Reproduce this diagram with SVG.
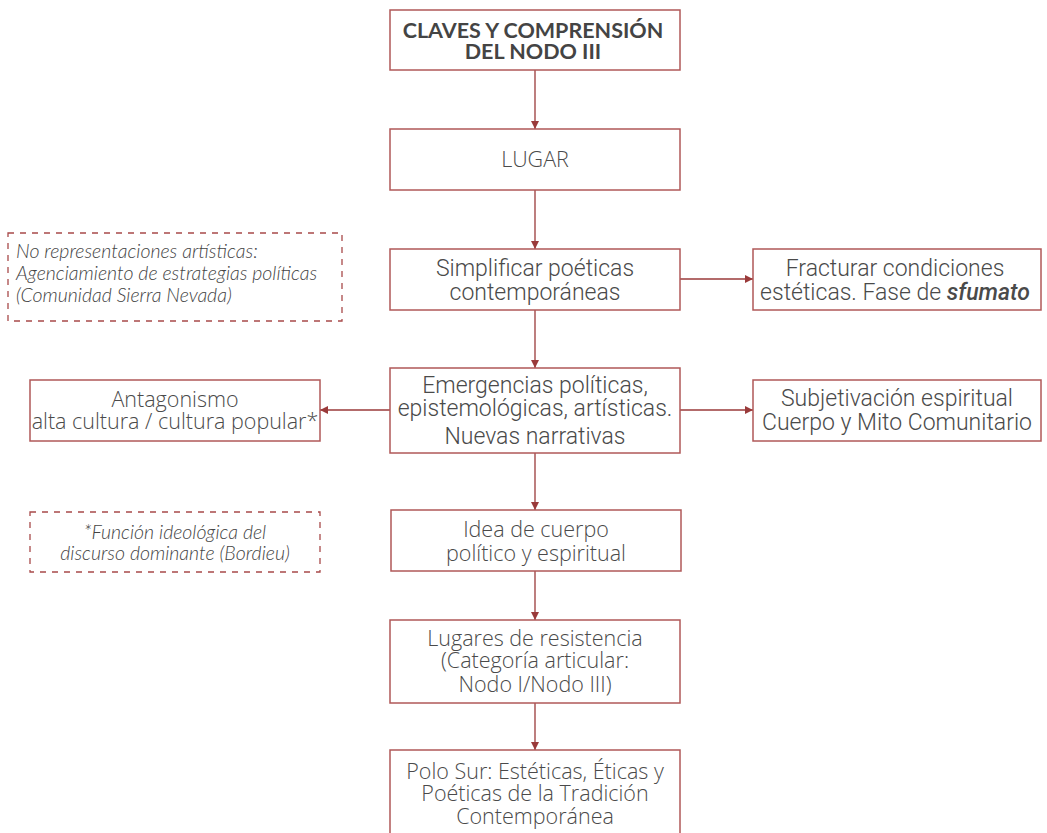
<svg xmlns="http://www.w3.org/2000/svg" width="1047" height="833" viewBox="0 0 1047 833">
  <style>
    .box { fill: #ffffff; stroke: #b05858; stroke-width: 1.5; }
    .note { fill: none; stroke: #a84a4a; stroke-width: 1.3; stroke-dasharray: 6 6; }
    .t { font-family: "Open Sans", "Liberation Sans", sans-serif; font-weight: 300; font-size: 21.5px; fill: #4a4a4a; text-anchor: middle; }
    .c { font-family: Roboto, "Liberation Sans", sans-serif; font-weight: 300; font-size: 23px; fill: #4a4a4a; text-anchor: middle; }
    .title { font-family: Lato, "Liberation Sans", sans-serif; font-weight: 700; font-size: 21.5px; fill: #444444; text-anchor: middle; }
    .n { font-family: Lato, "Liberation Sans", sans-serif; font-style: italic; font-weight: 300; font-size: 19.5px; fill: #444444; }
    .conn { stroke: #9a3a3a; stroke-width: 1.3; fill: none; marker-end: url(#arrow); }
  </style>
  <defs>
    <marker id="arrow" viewBox="0 0 10 10" refX="10" refY="5" markerWidth="8" markerHeight="8" markerUnits="userSpaceOnUse" orient="auto">
      <path d="M0,0 L10,5 L0,10 z" fill="#9a3a3a"/>
    </marker>
  </defs>

  <g id="connectors">
    <line class="conn" x1="535" y1="70" x2="535" y2="129"/>
    <line class="conn" x1="535" y1="190" x2="535" y2="249"/>
    <line class="conn" x1="535" y1="310" x2="535" y2="368"/>
    <line class="conn" x1="680" y1="279" x2="753" y2="279"/>
    <line class="conn" x1="390" y1="410" x2="320" y2="410"/>
    <line class="conn" x1="680" y1="410" x2="753" y2="410"/>
    <line class="conn" x1="535" y1="453" x2="535" y2="510"/>
    <line class="conn" x1="535" y1="571" x2="535" y2="620"/>
    <line class="conn" x1="535" y1="703" x2="535" y2="750"/>
  </g>

  <g id="n-claves">
    <rect class="box" x="390" y="10" width="290" height="60"/>
    <text class="title" x="533" y="38">CLAVES Y COMPRENSIÓN</text>
    <text class="title" x="533" y="59">DEL NODO III</text>
  </g>

  <g id="n-lugar">
    <rect class="box" x="390" y="129" width="290" height="61"/>
    <text class="t" x="535" y="167">LUGAR</text>
  </g>

  <g id="n-simplificar">
    <rect class="box" x="390" y="249" width="290" height="61"/>
    <text class="c" x="535" y="276">Simplificar poéticas</text>
    <text class="c" x="535" y="300">contemporáneas</text>
  </g>

  <g id="n-fracturar">
    <rect class="box" x="753" y="249" width="288" height="61"/>
    <text class="c" x="895" y="276" font-size="21">Fracturar condiciones</text>
    <text class="c" x="895" y="300" font-size="21">estéticas. Fase de <tspan font-style="italic" font-weight="500">sfumato</tspan></text>
  </g>

  <g id="n-nota-sierra">
    <rect class="note" x="8" y="233" width="334" height="88"/>
    <text class="n" x="16" y="258" font-weight="400" fill="#333333">No representaciones artísticas:</text>
    <text class="n" x="16" y="280">Agenciamiento de estrategias políticas</text>
    <text class="n" x="16" y="302">(Comunidad Sierra Nevada)</text>
  </g>

  <g id="n-emergencias">
    <rect class="box" x="390" y="368" width="290" height="85"/>
    <text class="c" x="535" y="393">Emergencias políticas,</text>
    <text class="c" x="535" y="416">epistemológicas, artísticas.</text>
    <text class="c" x="535" y="444">Nuevas narrativas</text>
  </g>

  <g id="n-antagonismo">
    <rect class="box" x="30" y="380" width="290" height="61"/>
    <text class="t" x="175" y="407" font-size="19.3">Antagonismo</text>
    <text class="t" x="175" y="429" font-size="19.3">alta cultura / cultura popular*</text>
  </g>

  <g id="n-subjetivacion">
    <rect class="box" x="753" y="380" width="288" height="61"/>
    <text class="c" x="897" y="406" font-size="24">Subjetivación espiritual</text>
    <text class="c" x="897" y="430" font-size="24">Cuerpo y Mito Comunitario</text>
  </g>

  <g id="n-nota-bordieu">
    <rect class="note" x="30" y="512" width="290" height="60"/>
    <text class="n" x="175" y="539" text-anchor="middle" font-size="18.5">*Función ideológica del</text>
    <text class="n" x="175" y="560" text-anchor="middle" font-size="18.5">discurso dominante (Bordieu)</text>
  </g>

  <g id="n-idea">
    <rect class="box" x="391" y="510" width="290" height="61"/>
    <text class="t" x="536" y="537">Idea de cuerpo</text>
    <text class="t" x="536" y="561">político y espiritual</text>
  </g>

  <g id="n-resistencia">
    <rect class="box" x="390" y="620" width="290" height="83"/>
    <text class="t" x="535" y="646">Lugares de resistencia</text>
    <text class="t" x="535" y="668">(Categoría articular:</text>
    <text class="t" x="535" y="692">Nodo I/Nodo III)</text>
  </g>

  <g id="n-polo-sur">
    <rect class="box" x="390" y="750" width="290" height="90"/>
    <text class="t" x="535" y="779">Polo Sur: Estéticas, Éticas y</text>
    <text class="t" x="535" y="801">Poéticas de la Tradición</text>
    <text class="t" x="535" y="824">Contemporánea</text>
  </g>
</svg>
